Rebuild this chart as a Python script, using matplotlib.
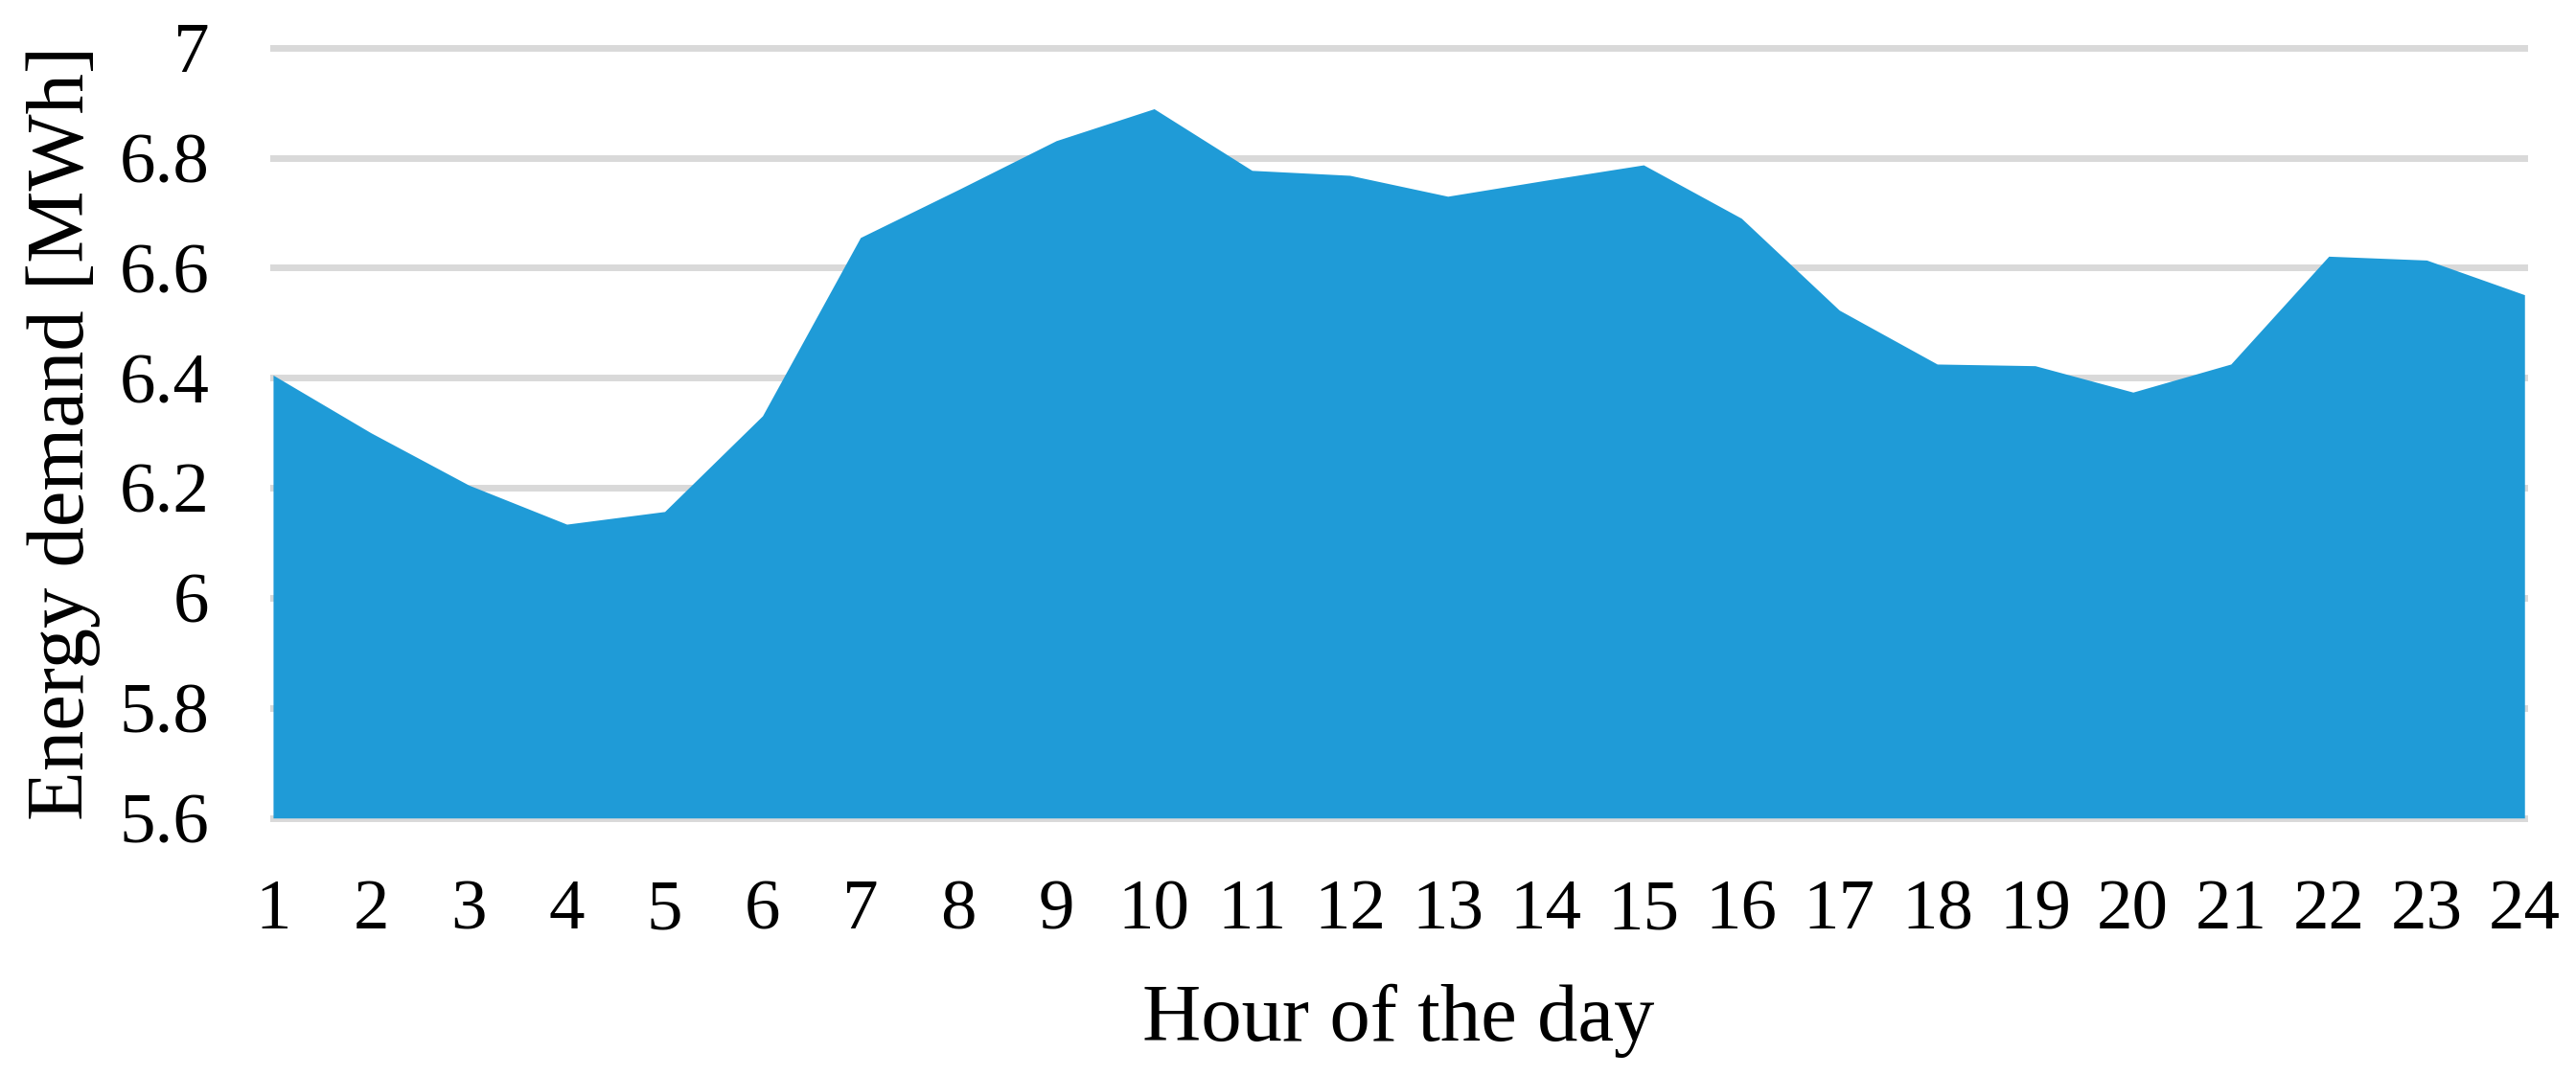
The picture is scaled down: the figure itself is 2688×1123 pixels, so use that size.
import matplotlib.pyplot as plt

plt.rcParams['font.family'] = ['Liberation Serif', 'DejaVu Serif']

# Hourly energy demand
hours = list(range(1, 25))
demand = [6.405, 6.30, 6.205, 6.134, 6.157, 6.331, 6.655, 6.742,
          6.831, 6.889, 6.777, 6.768, 6.730, 6.759, 6.787, 6.690,
          6.523, 6.425, 6.422, 6.374, 6.425, 6.621, 6.614, 6.551]
y_ticks = [5.6, 5.8, 6.0, 6.2, 6.4, 6.6, 6.8, 7.0]
y_labels = ['5.6', '5.8', '6', '6.2', '6.4', '6.6', '6.8', '7']

fig = plt.figure(figsize=(26.88, 11.23), dpi=100)
ax = fig.add_axes([0.106, 0.2398, 0.874, 0.7159])

ax.fill_between(hours, demand, 5.6, color='#1F9BD7', linewidth=0, zorder=2)

ax.set_xlim(1, 24)
ax.set_ylim(5.6, 7.0)
ax.set_xticks(hours)
ax.set_yticks(y_ticks)
ax.set_yticklabels(y_labels)
ax.grid(axis='y', color='#D9D9D9', linewidth=5, zorder=1)
ax.set_axisbelow(True)
# let the edge gridlines show their full width
for gl in ax.yaxis.get_gridlines():
    gl.set_clip_on(False)
for s in ax.spines.values():
    s.set_visible(False)
ax.tick_params(axis='both', length=0, labelsize=54)
ax.tick_params(axis='x', pad=46)
ax.tick_params(axis='y', pad=48)

ax.set_xlabel('Hour of the day', fontsize=61, labelpad=30)
ax.set_ylabel('Energy demand [MWh]', fontsize=61, labelpad=14)

fig.savefig('out.png', dpi=100)
